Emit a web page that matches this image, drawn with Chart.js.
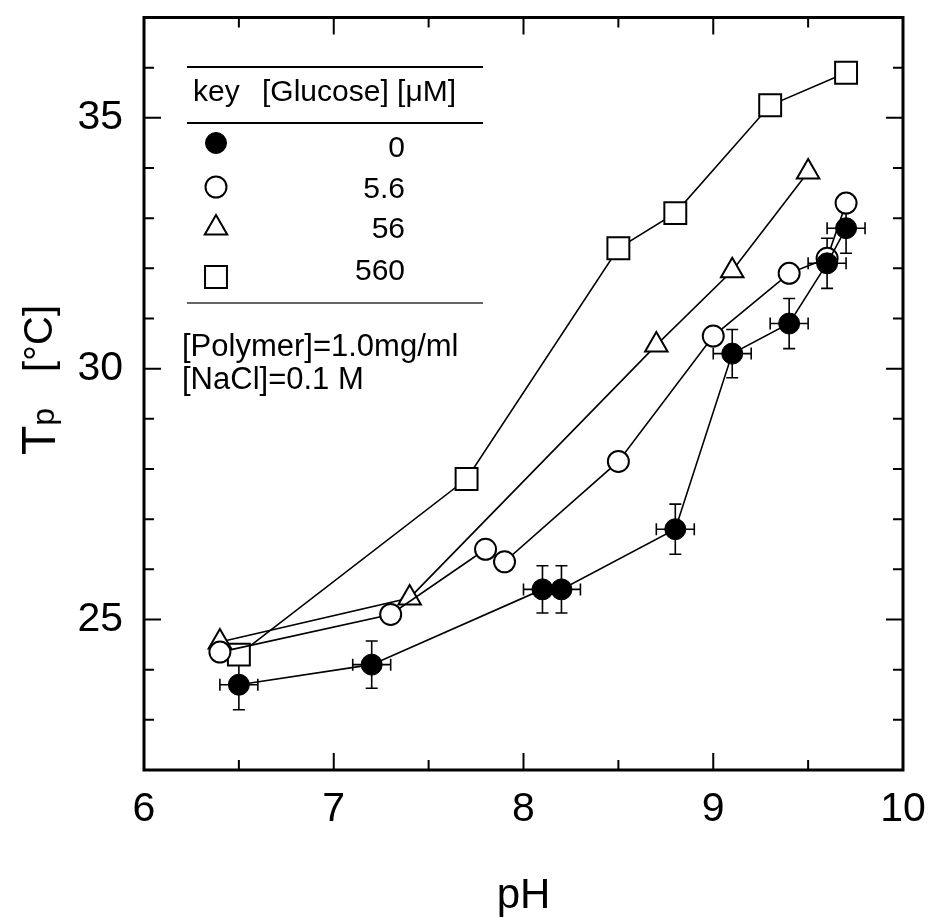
<!DOCTYPE html>
<html><head><meta charset="utf-8">
<script src="https://cdn.jsdelivr.net/npm/chart.js@4"></script>
<style>html,body{margin:0;padding:0;background:#fff;}#wrap{width:929px;height:922px;}</style>
</head><body><div id="wrap"><canvas id="c" width="929" height="922"></canvas></div>
<script>
// ---- data ----
const glucoseLabels = ['0', '5.6', '56', '560'];
const ph0 = [6.5, 7.2, 8.1, 8.2, 8.8, 9.1, 9.4, 9.6, 9.7];
const tp0 = [23.7, 24.1, 25.6, 25.6, 26.8, 30.3, 30.9, 32.1, 32.8];
const phErr0 = [0.1, 0.1, 0.1, 0.1, 0.1, 0.1, 0.1, 0.1, 0.1];
const tpErr0 = [0.5, 0.47, 0.47, 0.47, 0.5, 0.48, 0.5, 0.5, 0.5];
const ph1 = [6.4, 7.3, 7.8, 7.9, 8.5, 9.0, 9.4, 9.6, 9.7];
const tp1 = [24.35, 25.1, 26.4, 26.15, 28.15, 30.65, 31.9, 32.2, 33.3];
const ph2 = [6.4, 7.4, 8.7, 9.1, 9.5];
const tp2 = [24.55, 25.43, 30.47, 31.95, 33.92];
const ph3 = [6.5, 7.7, 8.5, 8.8, 9.3, 9.7];
const tp3 = [24.3, 27.8, 32.4, 33.1, 35.25, 35.9];
const xTicks = [6, 7, 8, 9, 10];
const xMinor = [6.5, 7.5, 8.5, 9.5];
const yTicks = [25, 30, 35];
const yMinor = [22, 23, 24, 26, 27, 28, 29, 31, 32, 33, 34, 36, 37];
const xTitle = 'pH';
const yTitleMain = 'T', yTitleSub = 'p', yTitleUnit = '[°C]';
const legendHeader = ['key', '[Glucose] [μM]'];
const noteLines = ['[Polymer]=1.0mg/ml', '[NaCl]=0.1 M'];

const FONT = '"Liberation Sans", Arial, Helvetica, sans-serif';
const pts = (xs, ys) => xs.map((x, i) => ({x: x, y: ys[i]}));

const styles = [
  {pointStyle: 'circle', radius: 10.5, fill: '#000', bw: 1},
  {pointStyle: 'circle', radius: 10.5, fill: '#fff', bw: 2},
  {pointStyle: 'triangle', radius: 13, fill: '#fff', bw: 2},
  {pointStyle: 'rect', radius: 15.5, fill: '#fff', bw: 2}
];
const seriesX = [ph0, ph1, ph2, ph3];
const seriesY = [tp0, tp1, tp2, tp3];

const datasets = seriesX.map((xs, k) => ({
  label: glucoseLabels[k],
  data: pts(xs, seriesY[k]),
  showLine: true,
  tension: 0,
  borderColor: '#000',
  borderWidth: 1.6,
  pointStyle: styles[k].pointStyle,
  pointRadius: styles[k].radius,
  pointHoverRadius: styles[k].radius,
  pointBackgroundColor: styles[k].fill,
  pointBorderColor: '#000',
  pointBorderWidth: styles[k].bw
}));

const errorBars = {
  id: 'errorBars',
  beforeDatasetsDraw(chart) {
    const ctx = chart.ctx, xs = chart.scales.x, ys = chart.scales.y;
    ctx.save();
    ctx.strokeStyle = '#000';
    ctx.lineWidth = 1.6;
    const cap = 6;
    ph0.forEach((x, i) => {
      const px = xs.getPixelForValue(x), py = ys.getPixelForValue(tp0[i]);
      const yt = ys.getPixelForValue(tp0[i] + tpErr0[i]), yb = ys.getPixelForValue(tp0[i] - tpErr0[i]);
      const xl = xs.getPixelForValue(x - phErr0[i]), xr = xs.getPixelForValue(x + phErr0[i]);
      ctx.beginPath();
      ctx.moveTo(px, yt); ctx.lineTo(px, yb);
      ctx.moveTo(px - cap, yt); ctx.lineTo(px + cap, yt);
      ctx.moveTo(px - cap, yb); ctx.lineTo(px + cap, yb);
      ctx.moveTo(xl, py); ctx.lineTo(xr, py);
      ctx.moveTo(xl, py - cap); ctx.lineTo(xl, py + cap);
      ctx.moveTo(xr, py - cap); ctx.lineTo(xr, py + cap);
      ctx.stroke();
    });
    ctx.restore();
  }
};

const frameTicks = {
  id: 'frameTicks',
  afterDatasetsDraw(chart) {
    const ctx = chart.ctx, a = chart.chartArea, xs = chart.scales.x, ys = chart.scales.y;
    ctx.save();
    ctx.strokeStyle = '#000';
    ctx.lineWidth = 2;
    const major = 17, minor = 10;
    ctx.beginPath();
    xTicks.forEach(v => { const p = xs.getPixelForValue(v);
      ctx.moveTo(p, a.bottom); ctx.lineTo(p, a.bottom - major);
      ctx.moveTo(p, a.top); ctx.lineTo(p, a.top + major); });
    xMinor.forEach(v => { const p = xs.getPixelForValue(v);
      ctx.moveTo(p, a.bottom); ctx.lineTo(p, a.bottom - minor);
      ctx.moveTo(p, a.top); ctx.lineTo(p, a.top + minor); });
    yTicks.forEach(v => { const p = ys.getPixelForValue(v);
      ctx.moveTo(a.left, p); ctx.lineTo(a.left + major, p);
      ctx.moveTo(a.right, p); ctx.lineTo(a.right - major, p); });
    yMinor.forEach(v => { const p = ys.getPixelForValue(v);
      ctx.moveTo(a.left, p); ctx.lineTo(a.left + minor, p);
      ctx.moveTo(a.right, p); ctx.lineTo(a.right - minor, p); });
    ctx.stroke();
    ctx.lineWidth = 3;
    ctx.strokeRect(a.left, a.top, a.right - a.left, a.bottom - a.top);
    ctx.restore();
  }
};

const annotations = {
  id: 'annotations',
  afterDraw(chart) {
    const ctx = chart.ctx;
    ctx.save();
    ctx.fillStyle = '#000';
    ctx.strokeStyle = '#000';
    // y-axis title, rotated
    ctx.save();
    ctx.translate(55, 455);
    ctx.rotate(-Math.PI / 2);
    ctx.textBaseline = 'alphabetic';
    ctx.textAlign = 'left';
    ctx.font = '48px ' + FONT;
    ctx.fillText(yTitleMain, 0, 0);
    const tw = ctx.measureText(yTitleMain).width;
    ctx.font = '32px ' + FONT;
    ctx.fillText(yTitleSub, tw, -1);
    ctx.font = '40px ' + FONT;
    ctx.fillText(yTitleUnit, 83, -3);
    ctx.restore();

    // legend table
    ctx.lineWidth = 2;
    ctx.beginPath();
    ctx.moveTo(187, 67); ctx.lineTo(483, 67);
    ctx.moveTo(187, 123); ctx.lineTo(483, 123);
    ctx.stroke();
    ctx.lineWidth = 1.5;
    ctx.strokeStyle = '#333';
    ctx.beginPath();
    ctx.moveTo(187, 303); ctx.lineTo(483, 303);
    ctx.stroke();
    ctx.strokeStyle = '#000';
    ctx.font = '30px ' + FONT;
    ctx.textBaseline = 'alphabetic';
    ctx.textAlign = 'left';
    ctx.fillText(legendHeader[0], 193, 101);
    ctx.fillText(legendHeader[1], 262, 101);
    const rowY = [143, 187, 228, 277];
    const numBase = [157, 198, 238, 280];
    glucoseLabels.forEach((lab, k) => {
      ctx.fillStyle = styles[k].fill;
      ctx.strokeStyle = '#000';
      ctx.lineWidth = styles[k].bw;
      Chart.helpers.drawPoint(ctx, {pointStyle: styles[k].pointStyle, radius: styles[k].radius, rotation: 0, borderWidth: styles[k].bw}, 216, rowY[k]);
      ctx.fillStyle = '#000';
      ctx.textAlign = 'right';
      ctx.fillText(lab, 405, numBase[k]);
    });
    ctx.textAlign = 'left';
    ctx.font = '31px ' + FONT;
    ctx.fillText(noteLines[0], 182, 356);
    ctx.fillText(noteLines[1], 182, 389);
    ctx.restore();
  }
};

new Chart(document.getElementById('c'), {
  type: 'scatter',
  data: {datasets: datasets},
  options: {
    responsive: false,
    devicePixelRatio: 1,
    animation: false,
    events: [],
    layout: {padding: {top: 10, right: 26, left: 0, bottom: 0}},
    plugins: {legend: {display: false}, tooltip: {enabled: false}},
    scales: {
      x: {
        type: 'linear', min: 6, max: 10,
        afterBuildTicks: s => { s.ticks = xTicks.map(v => ({value: v})); },
        afterFit: s => { s.height = 152; s.paddingLeft = 0; s.paddingRight = 0; },
        grid: {display: false, drawTicks: false},
        border: {display: false},
        ticks: {color: '#000', padding: 15, font: {family: FONT, size: 41}},
        title: {display: true, text: xTitle, color: '#000', padding: {top: 0, bottom: 0}, font: {family: FONT, size: 42}}
      },
      y: {
        type: 'linear', min: 22, max: 37,
        afterBuildTicks: s => { s.ticks = yTicks.map(v => ({value: v})); },
        afterFit: s => { s.width = 144; s.paddingTop = 0; s.paddingBottom = 0; },
        grid: {display: false, drawTicks: false},
        border: {display: false},
        ticks: {color: '#000', padding: 21, font: {family: FONT, size: 41}}
      }
    }
  },
  plugins: [errorBars, frameTicks, annotations]
});
</script>
</body></html>
